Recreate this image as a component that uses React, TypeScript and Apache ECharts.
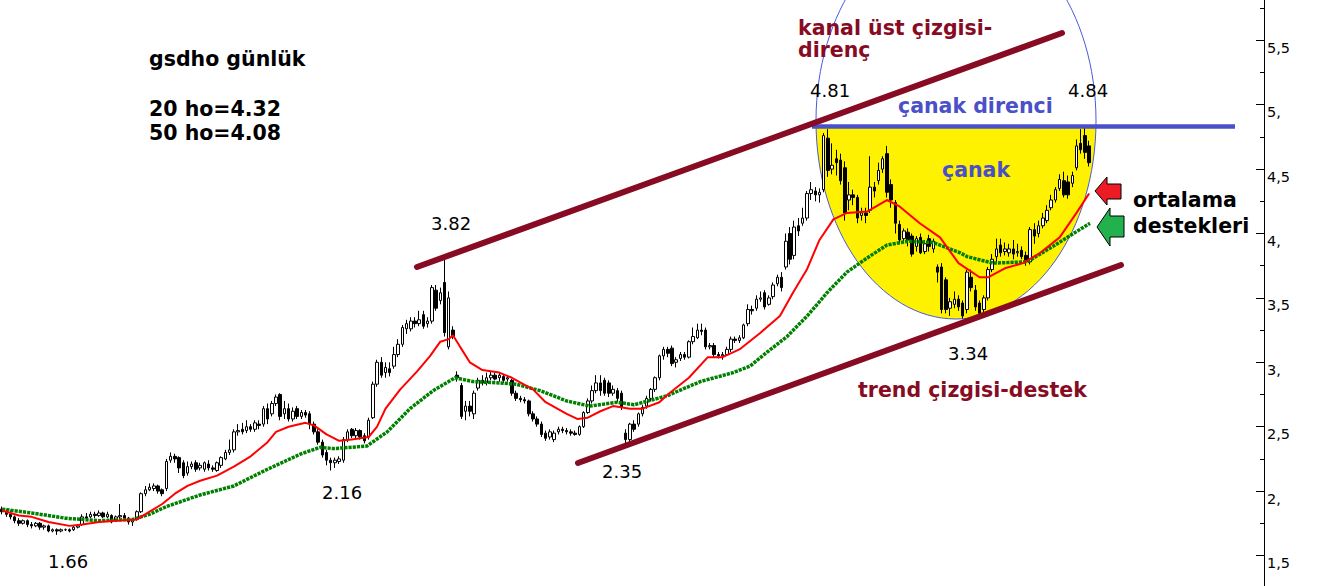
import React, { useEffect, useRef } from "react";
import * as echarts from "echarts";

// Candles: [open, close, low, high]
const candlesA: number[][] = [
  [1.86,1.84,1.82,1.88],[1.84,1.82,1.80,1.86],[1.82,1.80,1.78,1.85],[1.80,1.77,1.75,1.81],
  [1.77,1.75,1.73,1.79],[1.75,1.77,1.74,1.78],[1.77,1.74,1.72,1.78],[1.74,1.73,1.71,1.76],
  [1.73,1.75,1.72,1.76],[1.75,1.72,1.70,1.76],[1.72,1.73,1.70,1.74],[1.73,1.69,1.68,1.74],
  [1.69,1.70,1.68,1.71],[1.70,1.69,1.66,1.71],[1.69,1.70,1.68,1.71],[1.70,1.70,1.69,1.71],
  [1.70,1.69,1.68,1.71],[1.70,1.72,1.69,1.73],[1.72,1.73,1.71,1.74],[1.74,1.80,1.73,1.82],
  [1.80,1.79,1.77,1.83],[1.80,1.82,1.79,1.84],[1.82,1.81,1.79,1.84],[1.81,1.83,1.80,1.85],
  [1.83,1.80,1.79,1.84],[1.80,1.82,1.79,1.84],[1.81,1.76,1.75,1.82],[1.77,1.80,1.76,1.81],
  [1.80,1.81,1.78,1.90],[1.81,1.79,1.77,1.83],[1.79,1.76,1.74,1.80],[1.76,1.78,1.73,1.79],
  [1.78,1.84,1.77,1.85],[1.84,1.98,1.83,1.99],[1.98,2.01,1.96,2.04],[2.01,2.03,2.00,2.06],
];
const candlesB: number[][] = [
  [2.02,2.04,2.00,2.06],[2.04,2.00,1.98,2.05],[2.01,1.98,1.96,2.02],[2.02,2.23,2.00,2.25],
  [2.24,2.27,2.22,2.30],[2.27,2.25,2.22,2.29],[2.26,2.18,2.14,2.27],[2.22,2.12,2.10,2.24],
  [2.14,2.19,2.12,2.23],[2.19,2.21,2.17,2.23],[2.22,2.17,2.15,2.24],[2.18,2.20,2.16,2.22],
  [2.17,2.22,2.15,2.23],[2.21,2.18,2.16,2.24],[2.18,2.17,2.15,2.20],[2.16,2.22,2.15,2.23],
  [2.20,2.26,2.18,2.27],[2.25,2.30,2.24,2.32],[2.30,2.32,2.28,2.40],[2.32,2.46,2.30,2.48],
  [2.46,2.47,2.43,2.52],[2.48,2.46,2.44,2.53],[2.47,2.50,2.45,2.55],[2.50,2.48,2.46,2.52],
  [2.48,2.53,2.46,2.55],[2.52,2.51,2.48,2.55],[2.52,2.64,2.50,2.66],[2.64,2.56,2.52,2.68],
  [2.60,2.68,2.58,2.70],[2.68,2.73,2.66,2.75],[2.75,2.58,2.55,2.76],[2.60,2.64,2.56,2.70],
  [2.64,2.56,2.54,2.68],[2.56,2.62,2.54,2.65],[2.64,2.58,2.56,2.66],[2.58,2.61,2.56,2.63],
  [2.61,2.59,2.57,2.63],[2.60,2.52,2.48,2.62],[2.52,2.46,2.44,2.54],[2.46,2.38,2.36,2.48],
  [2.38,2.28,2.26,2.40],[2.30,2.24,2.20,2.32],[2.24,2.22,2.16,2.26],[2.22,2.24,2.18,2.26],
  [2.23,2.25,2.21,2.27],[2.24,2.40,2.22,2.42],[2.40,2.46,2.38,2.48],[2.48,2.43,2.41,2.49],
  [2.43,2.47,2.41,2.49],[2.47,2.42,2.40,2.48],[2.43,2.39,2.37,2.45],[2.42,2.55,2.40,2.57],
  [2.57,2.83,2.56,2.85],[2.83,3.00,2.81,3.02],
];
const candlesC: number[][] = [
  [3.00,2.90,2.88,3.04],[2.92,2.96,2.88,3.00],[2.95,2.92,2.89,3.00],[2.97,3.06,2.95,3.12],
  [3.06,3.14,3.04,3.18],[3.14,3.27,3.12,3.29],[3.26,3.30,3.22,3.33],[3.26,3.32,3.24,3.35],
  [3.32,3.30,3.27,3.35],[3.30,3.33,3.28,3.40],[3.37,3.28,3.26,3.40],[3.30,3.32,3.27,3.35],
  [3.32,3.58,3.30,3.60],[3.56,3.42,3.40,3.60],[3.48,3.54,3.45,3.58],[3.62,3.23,3.20,3.80],
  [3.12,3.50,3.10,3.55],[3.25,3.20,3.18,3.28],[2.90,2.88,2.85,2.93],[2.82,2.58,2.56,2.84],
  [2.62,2.66,2.55,2.70],[2.66,2.62,2.58,2.70],[2.60,2.76,2.56,2.78],[2.80,2.86,2.78,2.88],
  [2.86,2.84,2.82,2.90],[2.84,2.88,2.82,2.92],[2.88,2.90,2.86,2.93],[2.90,2.87,2.86,2.92],
  [2.88,2.90,2.85,2.92],[2.89,2.86,2.84,2.91],[2.87,2.88,2.85,2.90],[2.86,2.76,2.74,2.87],
  [2.76,2.72,2.70,2.78],[2.72,2.71,2.69,2.74],[2.71,2.70,2.68,2.73],[2.70,2.60,2.58,2.71],
  [2.60,2.56,2.54,2.62],[2.56,2.52,2.50,2.58],[2.52,2.44,2.42,2.54],[2.45,2.41,2.39,2.47],
  [2.42,2.46,2.40,2.48],[2.40,2.45,2.38,2.47],[2.46,2.48,2.44,2.50],[2.48,2.47,2.45,2.50],
  [2.47,2.46,2.44,2.49],[2.46,2.45,2.43,2.48],[2.45,2.44,2.43,2.47],[2.44,2.50,2.43,2.51],
  [2.50,2.61,2.49,2.62],[2.61,2.70,2.60,2.72],[2.70,2.78,2.68,2.82],[2.78,2.84,2.76,2.90],
  [2.84,2.78,2.74,2.90],[2.86,2.76,2.74,2.88],[2.84,2.76,2.73,2.86],[2.76,2.79,2.74,2.82],
  [2.78,2.72,2.69,2.80],[2.76,2.65,2.63,2.78],[2.45,2.40,2.35,2.48],[2.40,2.52,2.37,2.53],
];
const candlesD: number[][] = [
  [2.52,2.48,2.46,2.55],[2.52,2.60,2.50,2.61],[2.60,2.65,2.58,2.67],[2.66,2.72,2.64,2.74],
  [2.72,2.79,2.70,2.80],[2.79,2.88,2.77,2.89],[2.88,3.05,2.86,3.06],[3.05,3.10,3.02,3.12],
  [3.10,3.07,3.04,3.12],[3.11,2.99,2.97,3.13],[3.00,3.02,2.96,3.04],[3.03,3.06,3.01,3.08],
  [3.06,3.04,3.02,3.08],[3.04,3.16,3.03,3.17],[3.16,3.20,3.14,3.27],[3.19,3.25,3.18,3.30],
  [3.25,3.24,3.21,3.30],[3.25,3.12,3.10,3.27],[3.12,3.13,3.10,3.15],[3.13,3.06,3.04,3.15],
  [3.06,3.05,3.03,3.08],[3.05,3.06,3.02,3.08],[3.06,3.10,3.05,3.12],[3.10,3.18,3.08,3.20],
  [3.18,3.17,3.15,3.20],[3.17,3.19,3.15,3.21],[3.19,3.29,3.18,3.30],[3.30,3.41,3.28,3.45],
  [3.41,3.40,3.37,3.44],[3.42,3.49,3.40,3.52],[3.49,3.50,3.47,3.55],[3.54,3.43,3.41,3.56],
  [3.45,3.50,3.44,3.52],[3.51,3.60,3.49,3.62],[3.61,3.66,3.59,3.68],[3.66,3.58,3.55,3.70],
  [3.74,3.94,3.72,4.00],[4.00,3.80,3.76,4.05],[3.83,4.05,3.80,4.10],[4.06,4.02,3.98,4.12],
  [4.08,4.12,4.06,4.20],[4.12,4.31,4.10,4.33],[4.31,4.34,4.26,4.40],[4.33,4.30,4.25,4.36],
  [4.30,4.32,4.24,4.35],[4.34,4.76,4.32,4.78],[4.74,4.49,4.44,4.81],[4.50,4.53,4.46,4.70],
  [4.58,4.55,4.45,4.65],[4.57,4.41,4.38,4.62],[4.51,4.16,4.10,4.56],[4.26,4.30,4.18,4.40],
  [4.30,4.28,4.22,4.34],[4.28,4.12,4.08,4.30],[4.14,4.16,4.10,4.20],[4.16,4.14,4.08,4.20],
  [4.18,4.36,4.16,4.60],[4.36,4.33,4.28,4.40],[4.41,4.49,4.38,4.55],[4.50,4.58,4.47,4.60],
];
const candlesE: number[][] = [
  [4.62,4.32,4.28,4.68],[4.38,4.26,4.20,4.42],[4.24,4.08,4.00,4.26],[4.07,3.95,3.92,4.10],
  [3.96,4.02,3.94,4.04],[4.01,3.95,3.90,4.04],[3.98,3.84,3.82,4.00],[3.90,3.96,3.86,3.98],
  [3.97,3.85,3.84,4.00],[3.86,3.92,3.84,3.95],[3.96,3.90,3.86,3.99],[3.88,3.94,3.85,3.96],
  [3.74,3.70,3.62,3.76],[3.74,3.41,3.38,3.77],[3.64,3.41,3.38,3.66],[3.42,3.47,3.36,3.50],
  [3.45,3.49,3.42,3.55],[3.49,3.43,3.40,3.52],[3.46,3.36,3.34,3.48],[3.41,3.70,3.38,3.72],
  [3.66,3.58,3.55,3.72],[3.56,3.43,3.40,3.60],[3.46,3.38,3.35,3.48],[3.41,3.50,3.38,3.52],
  [3.50,3.72,3.48,3.74],[3.72,3.80,3.70,3.84],[3.82,3.88,3.78,3.96],[3.91,3.85,3.82,3.96],
  [3.86,3.88,3.83,3.93],[3.85,3.88,3.82,3.92],[3.88,3.84,3.80,3.95],[3.85,3.86,3.82,3.92],
  [3.87,3.82,3.80,3.90],[3.83,3.78,3.75,3.86],[3.78,4.03,3.76,4.05],[4.03,3.98,3.92,4.08],
  [4.00,4.06,3.97,4.10],[4.06,4.12,4.04,4.16],[4.10,4.18,4.08,4.22],[4.20,4.26,4.18,4.30],
  [4.26,4.34,4.24,4.36],[4.35,4.42,4.33,4.46],[4.41,4.30,4.28,4.48],[4.40,4.30,4.27,4.45],
  [4.39,4.45,4.36,4.48],[4.51,4.68,4.49,4.73],[4.70,4.65,4.62,4.81],[4.76,4.63,4.58,4.84],
  [4.68,4.55,4.52,4.72],
];

// Moving averages: [bar index, value]
const ma20Points: number[][] = [
  [0,1.85],[4,1.81],[7,1.80],[11,1.76],[16,1.73],[19,1.74],[23,1.76],[27,1.77],[32,1.78],
  [35,1.84],[38,1.90],[41,1.98],[44,2.04],[47,2.08],[51,2.12],[55,2.19],[59,2.27],[63,2.38],
  [65,2.46],[68,2.50],[72,2.53],[74,2.51],[77,2.44],[80,2.39],[83,2.40],[87,2.42],[89,2.50],
  [91,2.64],[94.5,2.79],[98.5,2.93],[101.6,3.05],[104,3.16],[106,3.18],[107,3.21],[108.7,3.12],
  [111,3.00],[114,2.94],[118,2.92],[121,2.88],[126,2.79],[129,2.69],[134,2.60],[136.5,2.56],
  [139,2.57],[142,2.62],[145,2.66],[149,2.64],[152,2.64],[156,2.69],[158,2.75],[163,2.88],
  [167.5,3.04],[171,3.04],[175,3.10],[180,3.23],[184.6,3.36],[187.7,3.54],[191,3.72],[194,3.95],
  [197.3,4.11],[200.5,4.16],[205.3,4.17],[210,4.26],[213,4.21],[217.8,4.08],[222.6,3.97],
  [227,3.77],[232,3.66],[234,3.66],[238,3.73],[242.3,3.77],[246.4,3.85],[251,3.97],[255,4.16],
  [258,4.31],
];
const ma50Points: number[][] = [
  [0,1.86],[7,1.83],[15,1.79],[23,1.77],[31,1.78],[35,1.82],[39,1.88],[47,1.97],[55,2.04],
  [63,2.17],[71,2.29],[75.5,2.34],[78.5,2.33],[83,2.34],[86.6,2.35],[91.4,2.46],[96.8,2.64],
  [102.3,2.78],[107.5,2.88],[111.8,2.85],[118,2.84],[122,2.83],[127.7,2.78],[134,2.70],
  [139.5,2.66],[146,2.69],[150,2.67],[157.8,2.74],[165.7,2.85],[173.5,2.92],[177.5,2.97],
  [181.6,3.08],[186.3,3.20],[191.1,3.36],[195.8,3.54],[200.5,3.70],[205.3,3.81],[210,3.91],
  [215,3.94],[221,3.93],[227.4,3.85],[229.1,3.82],[235.2,3.77],[243.3,3.78],[249.4,3.90],
  [258.2,4.08],
];

const infoLines = ["gsdho günlük", "20 ho=4.32", "50 ho=4.08"];
const priceLabels = ["1.66", "2.16", "3.82", "2.35", "4.81", "4.84", "3.34"];

const TOTAL_SLOTS = 300;

export default function App() {
  const ref = useRef<HTMLDivElement>(null);
  useEffect(() => {
    document.body.style.margin = "0";
    const chart = echarts.init(ref.current!, undefined, { renderer: "svg" });
    const candles = [...candlesA, ...candlesB, ...candlesC, ...candlesD, ...candlesE];
    const cats = Array.from({ length: TOTAL_SLOTS }, (_, i) => String(i));

    // bowl (lower part of ellipse, below the resistance line)
    const cx = 956, cy = 121, rx = 140, ry = 198, cut = 126.5;
    const t0 = Math.asin((cut - cy) / ry);
    const bowl: number[][] = [];
    for (let k = 0; k <= 90; k++) {
      const t = t0 + ((Math.PI - 2 * t0) * k) / 90;
      bowl.push([cx + rx * Math.cos(t), cy + ry * Math.sin(t)]);
    }

    const boldFont = { fontFamily: "DejaVu Sans", fontWeight: "bold", fontSize: 20.5 };
    const normFont = { fontFamily: "DejaVu Sans", fontWeight: "normal", fontSize: 18 };
    const txt = (text: string, x: number, y: number, fill: string, f: any) => ({
      type: "text",
      x,
      y,
      z: 20,
      style: {
        text,
        fill,
        ...f,
        align: "left",
        textAlign: "left",
        verticalAlign: "middle",
        textVerticalAlign: "middle",
      },
    });
    const dark = "#870b22";
    const blue = "#4a50c8";

    const labelPos = [
      [48, 561], [322, 492], [431, 223], [602, 471], [810, 90], [1068, 90], [948, 353],
    ];

    chart.setOption({
      animation: false,
      grid: { left: 0, right: 56, top: -24.1, bottom: -33.9, outerBoundsMode: "none", containLabel: false },
      xAxis: [
        { type: "category", data: cats, show: false, boundaryGap: true },
        { type: "value", min: -0.5, max: TOTAL_SLOTS - 0.5, show: false },
      ],
      yAxis: {
        type: "value",
        position: "right",
        min: 1,
        max: 6,
        interval: 0.5,
        axisLine: { show: true, onZero: false, lineStyle: { color: "#000", width: 1 } },
        axisTick: { show: true, inside: true, length: 8, lineStyle: { color: "#000" } },
        minorTick: { show: true, splitNumber: 2, length: 4, lineStyle: { color: "#000" } },
        splitLine: { show: false },
        axisLabel: {
          color: "#000",
          fontFamily: "DejaVu Sans",
          fontSize: 14.5,
          margin: 3,
          verticalAlign: "top",
          showMinLabel: false,
          showMaxLabel: false,
          formatter: (v: number) => {
            const s = (Math.round(v * 10) / 10).toFixed(1);
            const [a, b] = s.split(".");
            return b === "0" ? a + "," : a + "," + b;
          },
        },
      },
      series: [
        {
          type: "candlestick",
          xAxisIndex: 0,
          data: candles,
          barWidth: 3,
          z: 5,
          itemStyle: {
            color: "#ffffff",
            color0: "#000000",
            borderColor: "#000000",
            borderColor0: "#000000",
            borderWidth: 1,
          },
        },
        {
          type: "line",
          xAxisIndex: 1,
          data: ma50Points,
          symbol: "none",
          z: 6,
          lineStyle: { color: "#008000", width: 3.5, type: [3.2, 1] },
        },
        {
          type: "line",
          xAxisIndex: 1,
          data: ma20Points,
          symbol: "none",
          z: 7,
          lineStyle: { color: "#ff0000", width: 2 },
        },
      ],
      graphic: [
        { type: "polygon", z: 0, shape: { points: bowl }, style: { fill: "#fff200" } },
        {
          type: "ellipse",
          z: 1,
          shape: { cx, cy, rx, ry },
          style: { fill: "none", stroke: "#4a5ad8", lineWidth: 1 },
        },
        {
          type: "line",
          z: 15,
          shape: { x1: 812, y1: 126.5, x2: 1235, y2: 126.5 },
          style: { stroke: blue, lineWidth: 4.5 },
        },
        {
          type: "line",
          z: 15,
          shape: { x1: 417, y1: 267, x2: 1062, y2: 33 },
          style: { stroke: dark, lineWidth: 6, lineCap: "round" },
        },
        {
          type: "line",
          z: 15,
          shape: { x1: 578, y1: 463, x2: 1121, y2: 265 },
          style: { stroke: dark, lineWidth: 6, lineCap: "round" },
        },
        {
          type: "polygon",
          z: 15,
          shape: {
            points: [[1095, 191], [1107, 177], [1107, 184], [1121, 184], [1121, 199], [1107, 199], [1107, 205]],
          },
          style: { fill: "#ed1c24", stroke: "#000", lineWidth: 1 },
        },
        {
          type: "polygon",
          z: 15,
          shape: {
            points: [[1097, 227], [1110, 208], [1110, 216], [1124, 216], [1124, 237], [1110, 237], [1110, 246]],
          },
          style: { fill: "#22b14c", stroke: "#000", lineWidth: 1 },
        },
        txt(infoLines[0], 149, 59, "#000", boldFont),
        txt(infoLines[1], 149, 109, "#000", boldFont),
        txt(infoLines[2], 149, 133, "#000", boldFont),
        txt("kanal üst çizgisi-", 798, 28, dark, boldFont),
        txt("direnç", 798, 50, dark, boldFont),
        txt("çanak direnci", 898, 106, blue, boldFont),
        txt("çanak", 942, 170, blue, boldFont),
        txt("ortalama", 1133, 200, "#000", boldFont),
        txt("destekleri", 1133, 226, "#000", boldFont),
        txt("trend çizgisi-destek", 858, 390, dark, boldFont),
        ...priceLabels.map((t, i) => txt(t, labelPos[i][0], labelPos[i][1], "#000", normFont)),
      ],
    });
    return () => chart.dispose();
  }, []);
  return <div ref={ref} style={{ width: 1320, height: 586 }} />;
}
